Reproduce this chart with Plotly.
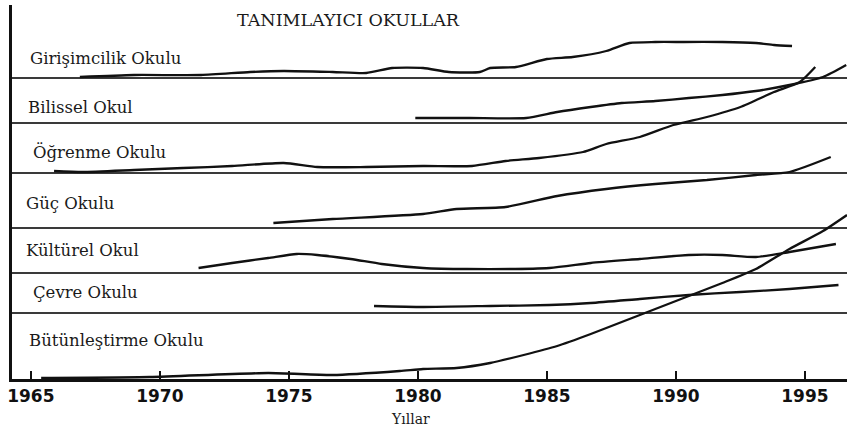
import plotly.graph_objects as go

# ---------------- data ----------------
SCHOOLS = ["Girişimcilik Okulu", "Bilissel Okul", "Öğrenme Okulu", "Güç Okulu",
           "Kültürel Okul", "Çevre Okulu", "Bütünleştirme Okulu"]

# band baselines (bottom line of each band, in chart units)
BAND_BASE = [301, 256, 206, 151, 106, 66, 0]

girisim_years = [1966.9, 1969.0, 1971.6, 1973.5, 1974.8, 1976.7, 1978.0, 1979.0, 1980.2, 1981.2,
                 1982.4, 1982.8, 1983.8, 1985.0, 1986.0, 1987.3, 1988.2, 1989.2, 1990.3, 1991.8,
                 1993.1, 1993.8, 1994.5]
girisim_vals = [1, 3, 3, 6, 7, 6, 5, 10, 10, 6, 6, 10, 11, 19, 21, 27, 35, 36, 36, 36, 35, 33, 32]

bilissel_years = [1979.9, 1982.0, 1984.2, 1985.4, 1986.7, 1987.9, 1989.2, 1990.5, 1991.8, 1993.1,
                  1994.4, 1995.7, 1996.6]
bilissel_vals = [5, 5, 5, 11, 16, 20, 22, 25, 28, 32, 38, 46, 58]

ogrenme_years = [1965.9, 1967.0, 1969.0, 1970.9, 1972.8, 1974.8, 1976.1, 1978.0, 1980.2, 1982.1,
                 1983.4, 1984.7, 1986.4, 1987.3, 1988.6, 1989.9, 1991.2, 1992.5, 1993.8, 1994.8,
                 1995.4]
ogrenme_vals = [2, 1, 3, 5, 7, 10, 6, 6, 7, 7, 12, 15, 21, 29, 36, 48, 56, 66, 81, 91, 106]

guc_years = [1974.4, 1976.7, 1980.2, 1981.5, 1983.4, 1985.4, 1987.3, 1989.2, 1991.2, 1993.1,
             1994.4, 1996.0]
guc_vals = [5, 9, 14, 19, 21, 32, 39, 44, 48, 53, 56, 71]

kulturel_years = [1971.5, 1972.8, 1974.2, 1975.3, 1976.1, 1977.4, 1978.6, 1980.2, 1981.9, 1985.1,
                  1986.7, 1988.6, 1990.5, 1991.8, 1993.1, 1994.4, 1996.2]
kulturel_vals = [5, 10, 15, 19, 18, 14, 9, 5, 4, 5, 10, 14, 18, 18, 16, 21, 29]

cevre_years = [1978.3, 1980.2, 1982.8, 1985.1, 1986.7, 1988.6, 1990.5, 1992.5, 1994.4, 1996.3]
cevre_vals = [7, 6, 7, 8, 10, 14, 18, 21, 24, 28]

butun_years = [1965.4, 1969.6, 1974.2, 1976.7, 1979.3, 1980.2, 1981.5, 1982.8, 1984.1, 1985.4,
               1986.7, 1987.9, 1989.2, 1990.5, 1991.8, 1993.1, 1994.4, 1995.7, 1996.63]
butun_vals = [1, 2, 6, 4, 8, 10, 11, 16, 24, 33, 45, 57, 70, 83, 96, 110, 130, 148, 164]

SERIES = [(girisim_years, girisim_vals), (bilissel_years, bilissel_vals),
          (ogrenme_years, ogrenme_vals), (guc_years, guc_vals),
          (kulturel_years, kulturel_vals), (cevre_years, cevre_vals),
          (butun_years, butun_vals)]

TICK_YEARS = [1965, 1970, 1975, 1980, 1985, 1990, 1995]
TITLE = "TANIMLAYICI OKULLAR"
X_TITLE = "Yıllar"

# ---------------- figure ----------------
fig = go.Figure()

for (yrs, vals), base, name in zip(SERIES, BAND_BASE, SCHOOLS):
    fig.add_trace(go.Scatter(
        x=yrs, y=[base + v for v in vals], mode="lines", name=name,
        line=dict(color="#111111", width=2.3, shape="spline", smoothing=0.6),
        hoverinfo="skip", showlegend=False))

# band separator lines
for base in BAND_BASE[:-1]:
    fig.add_shape(type="line", xref="paper", yref="y", x0=0, x1=1, y0=base, y1=base,
                  line=dict(color="#3a3a3a", width=2), layer="below")

# band labels (placed in the middle-left of each band)
label_pos = [(1964.9, 321), (1964.8, 272), (1965.0, 227), (1964.75, 176),
             (1964.75, 129), (1965.0, 87), (1964.85, 39)]
for name, (lx, ly) in zip(SCHOOLS, label_pos):
    fig.add_annotation(x=lx, y=ly, xref="x", yref="y", text=name, showarrow=False,
                       xanchor="left", yanchor="middle",
                       font=dict(family="DejaVu Serif", size=16.5, color="#1a1a1a"))

fig.add_annotation(x=1977.3, y=359, xref="x", yref="y", text=TITLE, showarrow=False,
                   xanchor="center", yanchor="middle",
                   font=dict(family="DejaVu Serif", size=17.5, color="#1a1a1a"))

fig.add_annotation(x=0.4775, y=-0.107, xref="paper", yref="paper", text=X_TITLE,
                   showarrow=False, xanchor="center", yanchor="middle",
                   font=dict(family="DejaVu Serif", size=14, color="#1a1a1a"))

fig.update_layout(
    template="none",
    width=847, height=432,
    margin=dict(l=12, r=0, t=5, b=53, pad=0),
    paper_bgcolor="white", plot_bgcolor="white",
    xaxis=dict(range=[1964.27, 1996.63], tickvals=TICK_YEARS,
               ticktext=[str(t) for t in TICK_YEARS], automargin=False,
               ticks="inside", ticklen=8, tickwidth=2, tickcolor="#111111",
               showline=True, linecolor="#111111", linewidth=2.5,
               showgrid=False, zeroline=False, ticklabelstandoff=0,
               tickfont=dict(family="DejaVu Sans", size=17, color="#111111", weight="bold")),
    yaxis=dict(range=[0, 374], showline=True, linecolor="#111111", linewidth=2.5,
               automargin=False,
               showgrid=False, zeroline=False, showticklabels=False, ticks=""),
)

fig.write_html("out.html", config={"displayModeBar": False},
               post_script="document.body.style.margin='0';document.body.style.padding='0';"
                           "document.body.style.overflow='hidden';")
